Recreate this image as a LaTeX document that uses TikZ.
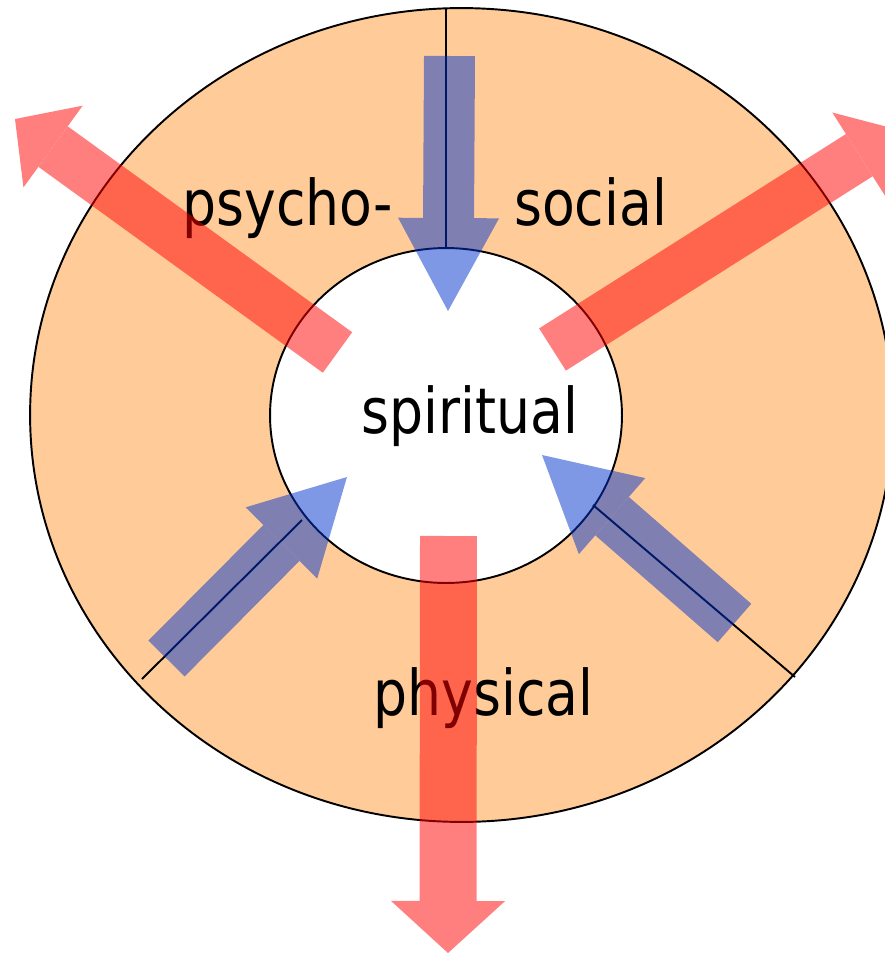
\documentclass[tikz,border=0pt]{standalone}
\usepackage{fontspec}
\setmainfont{DejaVu Sans}[FakeStretch=0.85]
\usetikzlibrary{arrows.meta}
\definecolor{ringorange}{RGB}{255,204,153}
\definecolor{inblue}{RGB}{0,51,204}

\begin{document}
\begin{tikzpicture}[x=0.02cm, y=-0.02cm,
  ring/.style     = {draw=black, fill=ringorange, line width=1.1pt},
  core/.style     = {draw=black, fill=white, line width=1.1pt},
  spoke/.style    = {draw=black, line width=1.1pt},
  word/.style     = {font=\fontsize{35.9}{43}\selectfont, anchor=base, inner sep=0pt},
  outarrow/.style = {draw=red, line width=1.0cm,
                     -{Triangle[length=0.94cm, width=2.02cm, line width=0pt]}},
  downarrow/.style= {draw=red, line width=1.14cm,
                     -{Triangle[length=1.04cm, width=2.28cm, line width=0pt]}},
  inarrow/.style  = {draw=inblue, line width=1.02cm,
                     -{Triangle[length=1.86cm, width=2.02cm, line width=0pt]}},
]
\useasboundingbox (0,0) rectangle (885,953);
\clip (0,0) rectangle (885,953);

\draw[ring] (461.5,415) ellipse [x radius=8.63cm, y radius=8.14cm];
\draw[core] (446,415.5) ellipse [x radius=3.52cm, y radius=3.35cm];

\draw[spoke] (446,8) -- (446,248);
\draw[spoke] (142,679) -- (302,520);
\draw[spoke] (593,505) -- (795,677);

\node[word] (psy) at (287.5,225) {psycho-};
\node[word] (soc) at (590.5,225) {social};
\node[word] (spi) at (470,433) {spiritual};
\node[word] (phy) at (483.5,715) {physical};

\coordinate (nw-tail) at (337.5,352.5);
\coordinate (nw-tip)  at (15,119);
\coordinate (ne-tail) at (552.5,349.5);
\coordinate (ne-tip)  at (899,130);
\coordinate (s-tail)  at (448.5,536);
\coordinate (s-tip)   at (448,953);
\coordinate (n-tail)  at (449.5,56);
\coordinate (n-tip)   at (448,311);
\coordinate (sw-tail) at (166.5,658.5);
\coordinate (sw-tip)  at (347,477);
\coordinate (se-tail) at (734.5,623);
\coordinate (se-tip)  at (542,455);

\begin{scope}[transparency group, opacity=0.5]
  \draw[outarrow]  (nw-tail) -- (nw-tip);
  \draw[outarrow]  (ne-tail) -- (ne-tip);
  \draw[downarrow] (s-tail) -- (s-tip);
\end{scope}

\begin{scope}[transparency group, opacity=0.5]
  \draw[inarrow] (n-tail) -- (n-tip);
  \draw[inarrow] (sw-tail) -- (sw-tip);
  \draw[inarrow] (se-tail) -- (se-tip);
\end{scope}

\end{tikzpicture}
\end{document}
